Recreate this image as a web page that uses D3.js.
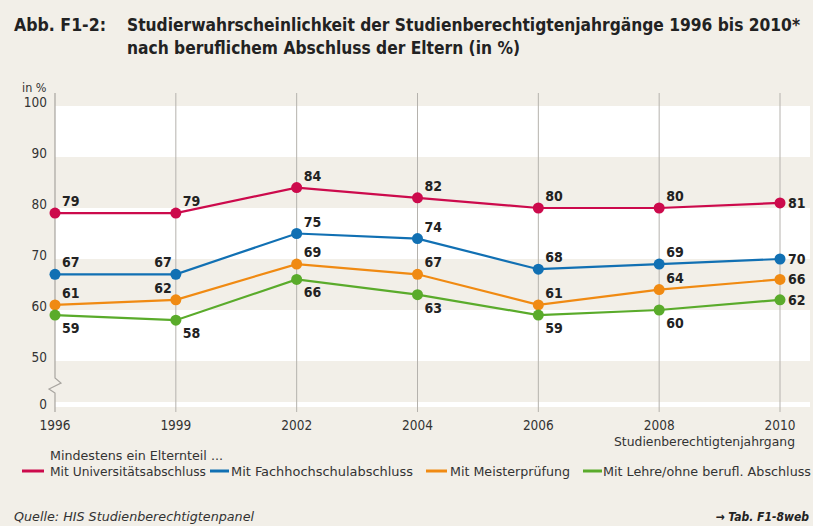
<!DOCTYPE html>
<html>
<head>
<meta charset="utf-8">
<script src="https://cdn.jsdelivr.net/npm/d3@7"></script>
<style>
  body { margin: 0; background: #f2efe8; }
  svg { display: block; font-family: "DejaVu Sans", sans-serif; font-stretch: condensed; }
</style>
</head>
<body>
<div id="chart"></div>
<script>
const years = ["1996", "1999", "2002", "2004", "2006", "2008", "2010"];
const uni = [79, 79, 84, 82, 80, 80, 81];
const fh = [67, 67, 75, 74, 68, 69, 70];
const meister = [61, 62, 69, 67, 61, 64, 66];
const lehre = [59, 58, 66, 63, 59, 60, 62];
const seriesNames = ["Mit Universitätsabschluss", "Mit Fachhochschulabschluss", "Mit Meisterprüfung", "Mit Lehre/ohne berufl. Abschluss"];
const yTicks = [50, 60, 70, 80, 90, 100];

const colors = ["#cc0a4c", "#1170b3", "#f08a12", "#5aab2b"];
const width = 813, height = 526;
const textCol = "#222";

const svg = d3.select("#chart").append("svg")
  .attr("width", width)
  .attr("height", height);

svg.append("rect").attr("width", width).attr("height", height).attr("fill", "#f2efe8");

const x = d3.scalePoint().domain(years).range([55, 780]);
const y = d3.scaleLinear().domain([50, 100]).range([361, 106]);
const yZero = 404.5;
const plotRight = 810;

// title
const title = svg.append("g").attr("fill", textCol).attr("font-weight", "bold").attr("font-size", 17);
title.append("text").attr("x", 14).attr("y", 31).attr("textLength", 92).attr("lengthAdjust", "spacingAndGlyphs").text("Abb. F1-2:");
title.append("text").attr("x", 127).attr("y", 31).attr("textLength", 673).attr("lengthAdjust", "spacingAndGlyphs")
  .text("Studierwahrscheinlichkeit der Studienberechtigtenjahrgänge 1996 bis 2010*");
title.append("text").attr("x", 127).attr("y", 54).attr("textLength", 393).attr("lengthAdjust", "spacingAndGlyphs")
  .text("nach beruflichem Abschluss der Eltern (in %)");

// white bands
const bands = [[100, 90], [80, 70], [60, 50]];
svg.append("g").selectAll("rect").data(bands).join("rect")
  .attr("x", 55).attr("width", plotRight - 55)
  .attr("y", d => y(d[0]))
  .attr("height", d => y(d[1]) - y(d[0]))
  .attr("fill", "#fff");
svg.append("rect").attr("x", 55).attr("width", plotRight - 55)
  .attr("y", yZero - 2.5).attr("height", 5).attr("fill", "#fff");

// vertical grid lines
svg.append("g").selectAll("line").data(years.slice(1)).join("line")
  .attr("x1", d => x(d)).attr("x2", d => x(d))
  .attr("y1", 93).attr("y2", 412)
  .attr("stroke", "#b5b2ad").attr("stroke-width", 1);

// y axis line with break
const ax = x(years[0]);
svg.append("path")
  .attr("d", `M${ax},93 V378 L${ax + 6},383 L${ax - 6},389 L${ax},393 V412`)
  .attr("fill", "none").attr("stroke", "#a8a5a0").attr("stroke-width", 1.2);

// y tick labels
const yl = svg.append("g").attr("font-size", 13.5).attr("fill", "#333").attr("text-anchor", "end");
yl.selectAll("text").data(yTicks).join("text")
  .attr("x", 47).attr("y", d => y(d) + 1).text(d => d);
yl.append("text").attr("x", 47).attr("y", yZero + 4).text("0");
svg.append("text").attr("x", 22).attr("y", 92).attr("font-size", 12.5).attr("fill", "#333").text("in %");

// x tick labels
svg.append("g").attr("font-size", 13.5).attr("fill", "#333").attr("text-anchor", "middle")
  .selectAll("text").data(years).join("text")
  .attr("x", d => x(d)).attr("y", 430).text(d => d);
svg.append("text").attr("x", 795).attr("y", 446).attr("text-anchor", "end")
  .attr("font-size", 13).attr("fill", "#333")
  .attr("textLength", 181).attr("lengthAdjust", "spacingAndGlyphs")
  .text("Studienberechtigtenjahrgang");

// lines, points, labels
const series = [uni, fh, meister, lehre];
const line = d3.line().x((d, i) => x(years[i])).y(d => y(d));

series.forEach((vals, s) => {
  const g = svg.append("g");
  g.append("path").datum(vals)
    .attr("d", line)
    .attr("fill", "none")
    .attr("stroke", colors[s])
    .attr("stroke-width", 2.2);
  g.selectAll("circle").data(vals).join("circle")
    .attr("cx", (d, i) => x(years[i]))
    .attr("cy", d => y(d))
    .attr("r", 5.5)
    .attr("fill", colors[s]);
  g.selectAll("text").data(vals).join("text")
    .attr("font-size", 14)
    .attr("font-weight", 600)
    .attr("fill", textCol)
    .each(function (d, i) {
      const px = x(years[i]), py = y(d);
      const t = d3.select(this).text(d);
      if (i === years.length - 1) {
        t.attr("x", px + 8).attr("y", py + 5);
      } else if (s === 3) {
        t.attr("x", px + 7).attr("y", py + 18);
      } else if (i === 1 && s > 0) {
        t.attr("x", px - 4).attr("y", py - 7).attr("text-anchor", "end");
      } else {
        t.attr("x", px + 7).attr("y", py - 7);
      }
    });
});

// legend
svg.append("text").attr("x", 50).attr("y", 460).attr("font-size", 13).attr("fill", "#333")
  .attr("textLength", 173).attr("lengthAdjust", "spacingAndGlyphs")
  .text("Mindestens ein Elternteil ...");

const legendItems = [
  { sx: 22, sw: 22, tx: 50, tw: 156 },
  { sx: 210, sw: 19, tx: 231, tw: 182 },
  { sx: 426, sw: 21, tx: 450, tw: 120 },
  { sx: 583, sw: 19, tx: 603, tw: 208 }
];
const lg = svg.append("g");
legendItems.forEach((it, i) => {
  lg.append("line")
    .attr("x1", it.sx).attr("x2", it.sx + it.sw)
    .attr("y1", 471).attr("y2", 471)
    .attr("stroke", colors[i]).attr("stroke-width", 3);
  lg.append("text")
    .attr("x", it.tx).attr("y", 476)
    .attr("font-size", 13).attr("fill", "#333")
    .attr("textLength", it.tw).attr("lengthAdjust", "spacingAndGlyphs")
    .text(seriesNames[i]);
});

// footer
svg.append("text").attr("x", 14).attr("y", 521)
  .attr("font-size", 13).attr("font-style", "italic").attr("fill", "#333")
  .attr("textLength", 240).attr("lengthAdjust", "spacingAndGlyphs")
  .text("Quelle: HIS Studienberechtigtenpanel");
svg.append("text").attr("x", 809).attr("y", 521).attr("text-anchor", "end")
  .attr("font-size", 12).attr("font-style", "italic").attr("font-weight", "bold").attr("fill", "#222")
  .text("→ Tab. F1-8web");
</script>
</body>
</html>
